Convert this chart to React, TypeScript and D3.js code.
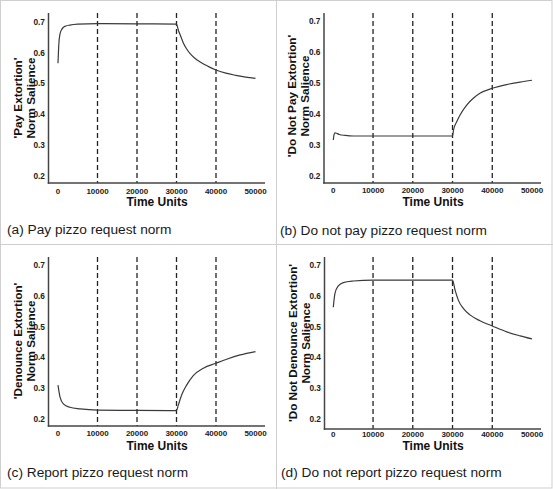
import React from "react";
import * as d3 from "d3";

const TIME_TICKS = [0, 10000, 20000, 30000, 40000, 50000];
const Y_TICKS = [0.2, 0.3, 0.4, 0.5, 0.6, 0.7];
const DASH_TIMES = [10000, 20000, 30000, 40000];

const payTimes = [0, 200, 500, 1000, 1500, 2000, 3000, 5000, 10000, 20000, 30000, 30450, 31000, 31700, 32500, 33400, 34500, 36000, 38000, 40000, 42500, 45000, 47500, 50000];
const payValues = [0.565, 0.625, 0.66, 0.676, 0.683, 0.686, 0.689, 0.692, 0.694, 0.693, 0.692, 0.673, 0.655, 0.632, 0.613, 0.597, 0.583, 0.569, 0.555, 0.543, 0.533, 0.526, 0.52, 0.516];

const noPayTimes = [0, 150, 400, 800, 1500, 3000, 5000, 10000, 20000, 30000, 30250, 31050, 31900, 33560, 35230, 36900, 40000, 43600, 47000, 50000];
const noPayValues = [0.315, 0.33, 0.338, 0.337, 0.333, 0.33, 0.328, 0.328, 0.328, 0.328, 0.347, 0.374, 0.396, 0.428, 0.45, 0.466, 0.482, 0.494, 0.502, 0.508];

const reportTimes = [0, 500, 1350, 3000, 5600, 10000, 20000, 30000, 30450, 31300, 32560, 34250, 36800, 40000, 42700, 46100, 50000];
const reportValues = [0.31, 0.272, 0.249, 0.238, 0.233, 0.229, 0.228, 0.227, 0.245, 0.278, 0.31, 0.341, 0.365, 0.381, 0.394, 0.408, 0.419];

const noReportTimes = [0, 420, 1260, 2520, 5030, 10000, 20000, 30000, 30630, 31460, 32720, 34400, 36900, 40000, 43630, 47000, 50000];
const noReportValues = [0.563, 0.608, 0.632, 0.643, 0.648, 0.651, 0.651, 0.651, 0.619, 0.586, 0.559, 0.538, 0.519, 0.502, 0.483, 0.47, 0.46];

const panelLabels = [
  ["'Pay Extortion'", "Norm Salience"],
  ["'Do Not Pay Extortion'", "Norm Salience"],
  ["'Denounce Extortion'", "Norm Salience"],
  ["'Do Not Denounce Extortion'", "Norm Salience"],
];
const captions = [
  "(a) Pay pizzo request norm",
  "(b) Do not pay pizzo request norm",
  "(c) Report pizzo request norm",
  "(d) Do not report pizzo request norm",
];
const X_TITLE = "Time Units";

const series = [
  { t: payTimes, v: payValues },
  { t: noPayTimes, v: noPayValues },
  { t: reportTimes, v: reportValues },
  { t: noReportTimes, v: noReportValues },
];

// layout (pixel geometry)
const layouts = [
  { ax: 48.5, ay: 183, top: 13, right: 265, x0: 58, x1: 255.5, y07: 21.7, y02: 175.7, tickY: 193.7, titleX: 157, titleY: 206, lb: [21.5, 34.5], lc: 98, capX: 7, capY: 234 },
  { ax: 324, ay: 183, top: 13, right: 541, x0: 333.3, x1: 532, y07: 20.7, y02: 175.7, tickY: 193, titleX: 433, titleY: 206, lb: [296, 309], lc: 96, capX: 280, capY: 234.5 },
  { ax: 48.5, ay: 426, top: 257, right: 265, x0: 58, x1: 255.5, y07: 265, y02: 419, tickY: 436.3, titleX: 157, titleY: 450, lb: [22, 34.5], lc: 341, capX: 7, capY: 476.5 },
  { ax: 324.5, ay: 429, top: 257, right: 541, x0: 333.3, x1: 532, y07: 265, y02: 419, tickY: 437, titleX: 433, titleY: 450, lb: [297, 310], lc: 343, capX: 281, capY: 476.5 },
];

const FONT = "'Liberation Sans', Arial, Helvetica, sans-serif";

function Panel({ i }: { i: number }) {
  const L = layouts[i];
  const s = series[i];
  const x = d3.scaleLinear().domain([0, 50000]).range([L.x0, L.x1]);
  const y = d3.scaleLinear().domain([0.2, 0.7]).range([L.y02, L.y07]);
  const pts: [number, number][] = s.t.map((t, k) => [t, s.v[k]]);
  const line = d3
    .line<[number, number]>()
    .x((d) => x(d[0]))
    .y((d) => y(d[1]))
    .curve(d3.curveMonotoneX);
  return (
    <g>
      {DASH_TIMES.map((t) => (
        <line key={t} x1={x(t)} x2={x(t)} y1={L.top} y2={L.ay} stroke="#222" strokeWidth={1.3} strokeDasharray="5,3" />
      ))}
      <path d={line(pts) || ""} fill="none" stroke="#3a3a3a" strokeWidth={1.2} />
      <line x1={L.ax} x2={L.ax} y1={L.top} y2={L.ay + 0.75} stroke="#444" strokeWidth={1.5} />
      <line x1={L.ax - 0.75} x2={L.right} y1={L.ay} y2={L.ay} stroke="#444" strokeWidth={1.5} />
      {Y_TICKS.map((v) => (
        <text key={v} x={L.ax - 3.5} y={y(v) + 3} textAnchor="end" fontFamily={FONT} fontWeight="bold" fontSize={8.3} fill="#222">
          {v.toFixed(1)}
        </text>
      ))}
      {TIME_TICKS.map((t) => (
        <text key={t} x={x(t)} y={L.tickY} textAnchor="middle" fontFamily={FONT} fontWeight="bold" fontSize={8} fill="#222">
          {t}
        </text>
      ))}
      <text x={L.titleX} y={L.titleY} textAnchor="middle" fontFamily={FONT} fontWeight="bold" fontSize={12} fill="#111">
        {X_TITLE}
      </text>
      {panelLabels[i].map((lab, k) => (
        <text key={k} transform={`translate(${L.lb[k]},${L.lc}) rotate(-90)`} textAnchor="middle" fontFamily={FONT} fontWeight="bold" fontSize={11.7} fill="#111">
          {lab}
        </text>
      ))}
      <text x={L.capX} y={L.capY} fontFamily={FONT} fontSize={13.7} fill="#1a1a1a">
        {captions[i]}
      </text>
    </g>
  );
}

export default function App() {
  return (
    <svg width={553} height={489} style={{ position: "absolute", left: 0, top: 0, background: "#fff" }}>
      <rect x={0} y={0} width={553} height={489} fill="#fff" />
      <rect x={0.5} y={0.5} width={551.5} height={487.5} fill="none" stroke="#cfcfcf" strokeWidth={1} />
      <line x1={276.5} x2={276.5} y1={0} y2={489} stroke="#cfcfcf" strokeWidth={1} />
      <line x1={0} x2={553} y1={244.5} y2={244.5} stroke="#cfcfcf" strokeWidth={1} />
      {[0, 1, 2, 3].map((i) => (
        <Panel key={i} i={i} />
      ))}
    </svg>
  );
}
